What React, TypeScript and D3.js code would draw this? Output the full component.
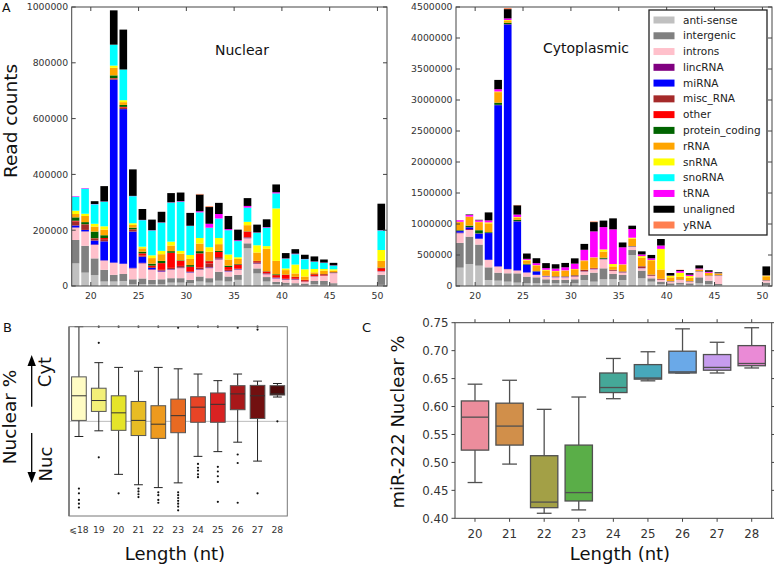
import React from 'react';
import * as d3 from 'd3';

const FONT = 'DejaVu Sans, Verdana, sans-serif';

// ---------- Panel A data (read counts, in thousands) ----------
const lengths = [18, 19, 20, 21, 22, 23, 24, 25, 26, 27, 28, 29, 30, 31, 32, 33, 34, 35, 36, 37, 38, 39, 40, 41, 42, 43, 44, 45, 50];
const categories = ['anti-sense', 'intergenic', 'introns', 'lincRNA', 'miRNA', 'misc_RNA', 'other', 'protein_coding', 'rRNA', 'snRNA', 'snoRNA', 'tRNA', 'unaligned', 'yRNA'];
const categoryColors = ['#c0c0c0', '#808080', '#ffc0cb', '#800080', '#0000ff', '#a52a2a', '#ff0000', '#006400', '#ffa500', '#ffff00', '#00ffff', '#ff00ff', '#000000', '#ff7f50'];

const nucAntiSense = [81, 48, 39, 16, 16, 18, 6, 7, 6, 6, 12, 12, 10, 16, 12, 19, 16, 22, 135, 45, 16, 7, 4, 4, 3, 6, 4, 4, 4];
const nucIntergenic = [84, 96, 60, 42, 24, 25, 18, 20, 16, 18, 16, 16, 12, 18, 16, 32, 18, 18, 18, 18, 16, 8, 8, 6, 6, 12, 14, 6, 36];
const nucIntrons = [44, 51, 48, 33, 43, 36, 39, 54, 36, 27, 30, 36, 26, 24, 36, 44, 18, 18, 18, 16, 10, 12, 10, 12, 6, 16, 18, 36, 12];
const nucLincRNA = [1, 1, 2, 1, 1, 1, 2, 2, 2, 2, 1, 1, 1, 1, 2, 2, 1, 1, 1, 1, 1, 1, 1, 1, 1, 1, 1, 1, 1];
const nucMiRNA = [7, 5, 14, 68, 656, 554, 130, 22, 5, 2, 1, 1, 1, 1, 1, 1, 1, 1, 1, 1, 1, 1, 1, 1, 0, 0, 0, 0, 0];
const nucMiscRNA = [14, 18, 6, 8, 3, 5, 6, 4, 3, 3, 5, 6, 3, 6, 14, 6, 4, 2, 2, 4, 2, 2, 2, 2, 1, 1, 1, 1, 1];
const nucOther = [3, 2, 2, 4, 2, 3, 2, 8, 5, 24, 54, 18, 16, 51, 8, 18, 10, 15, 20, 4, 6, 8, 14, 6, 4, 6, 4, 1, 10];
const nucProteinCoding = [12, 8, 24, 10, 10, 7, 6, 6, 7, 8, 6, 2, 6, 8, 2, 4, 5, 2, 1, 1, 1, 3, 1, 1, 1, 1, 1, 1, 2];
const nucRRNA = [12, 22, 18, 20, 27, 10, 10, 12, 20, 24, 20, 24, 22, 27, 32, 24, 22, 18, 22, 30, 80, 48, 16, 12, 12, 6, 12, 5, 24];
const nucSnRNA = [12, 8, 10, 12, 8, 7, 6, 6, 10, 12, 14, 10, 14, 20, 16, 22, 18, 6, 12, 26, 10, 188, 6, 32, 26, 12, 6, 5, 39];
const nucSnoRNA = [50, 90, 70, 88, 75, 110, 97, 95, 89, 101, 140, 176, 104, 92, 70, 70, 87, 58, 51, 45, 66, 54, 35, 37, 36, 26, 22, 13, 70];
const nucTRNA = [2, 2, 1, 1, 0, 0, 1, 1, 1, 1, 1, 2, 1, 4, 14, 16, 4, 3, 6, 1, 2, 4, 1, 2, 1, 1, 1, 1, 1];
const nucUnaligned = [0, 0, 10, 55, 123, 143, 95, 39, 38, 38, 33, 31, 46, 60, 60, 40, 47, 38, 28, 28, 28, 28, 19, 16, 15, 18, 11, 9, 95];
const nucYRNA = [0, 0, 0, 0, 0, 0, 0, 0, 0, 0, 0, 0, 0, 2, 3, 0, 0, 0, 0, 0, 0, 0, 0, 0, 0, 0, 0, 0, 0];

const cytAntiSense = [296, 355, 328, 97, 86, 70, 54, 43, 43, 43, 43, 45, 43, 97, 70, 108, 108, 97, 500, 124, 70, 32, 16, 22, 16, 43, 32, 16, 16];
const cytIntergenic = [400, 441, 340, 204, 129, 135, 150, 108, 97, 65, 54, 55, 65, 81, 145, 177, 86, 81, 80, 124, 54, 38, 27, 32, 27, 97, 54, 16, 38];
const cytIntrons = [155, 108, 91, 118, 97, 65, 43, 65, 38, 43, 43, 40, 43, 54, 54, 145, 48, 38, 54, 38, 38, 27, 27, 43, 27, 91, 75, 135, 32];
const cytLincRNA = [10, 15, 5, 5, 5, 5, 5, 3, 3, 3, 3, 3, 3, 3, 3, 3, 3, 3, 3, 3, 3, 3, 2, 2, 2, 2, 2, 2, 2];
const cytMiRNA = [25, 28, 81, 430, 2600, 3945, 790, 124, 54, 5, 3, 3, 2, 2, 2, 2, 2, 2, 2, 2, 2, 2, 2, 2, 2, 2, 2, 2, 2];
const cytMiscRNA = [5, 5, 5, 5, 5, 5, 5, 3, 3, 5, 8, 8, 16, 22, 10, 5, 12, 12, 3, 22, 12, 8, 3, 3, 3, 3, 3, 3, 3];
const cytOther = [0, 0, 0, 0, 0, 0, 0, 0, 0, 0, 0, 0, 0, 0, 5, 0, 0, 0, 0, 5, 3, 3, 0, 0, 0, 0, 0, 0, 0];
const cytProteinCoding = [10, 22, 50, 11, 35, 21, 21, 11, 3, 3, 3, 3, 3, 3, 3, 16, 3, 3, 3, 3, 3, 3, 2, 2, 2, 2, 2, 2, 2];
const cytRRNA = [130, 140, 130, 140, 170, 28, 38, 54, 90, 84, 81, 90, 95, 140, 165, 100, 54, 108, 118, 134, 230, 150, 60, 43, 54, 22, 40, 22, 62];
const cytSnRNA = [5, 5, 5, 16, 10, 15, 8, 11, 5, 11, 5, 5, 5, 10, 5, 34, 38, 5, 16, 27, 5, 333, 25, 65, 27, 5, 3, 5, 11];
const cytSnoRNA = [0, 0, 0, 0, 0, 0, 0, 0, 0, 0, 0, 0, 0, 0, 0, 0, 0, 0, 0, 0, 0, 0, 0, 0, 0, 0, 0, 0, 0];
const cytTRNA = [25, 27, 25, 32, 37, 27, 38, 16, 32, 27, 38, 50, 86, 172, 419, 360, 560, 275, 140, 27, 27, 54, 5, 27, 22, 16, 16, 3, 3];
const cytUnaligned = [0, 8, 8, 129, 150, 150, 150, 86, 80, 80, 70, 70, 85, 95, 150, 105, 177, 78, 54, 50, 54, 105, 40, 16, 25, 50, 25, 14, 145];
const cytYRNA = [0, 0, 0, 0, 0, 16, 5, 0, 0, 0, 0, 0, 0, 0, 10, 0, 0, 0, 0, 0, 0, 0, 0, 5, 0, 0, 0, 0, 0];

const nuclearSeries = [nucAntiSense, nucIntergenic, nucIntrons, nucLincRNA, nucMiRNA, nucMiscRNA, nucOther, nucProteinCoding, nucRRNA, nucSnRNA, nucSnoRNA, nucTRNA, nucUnaligned, nucYRNA];
const cytoplasmicSeries = [cytAntiSense, cytIntergenic, cytIntrons, cytLincRNA, cytMiRNA, cytMiscRNA, cytOther, cytProteinCoding, cytRRNA, cytSnRNA, cytSnoRNA, cytTRNA, cytUnaligned, cytYRNA];

const xTicksA = [20, 25, 30, 35, 40, 45, 50];
const nucYTicks = [0, 200, 400, 600, 800, 1000];
const cytYTicks = [0, 500, 1000, 1500, 2000, 2500, 3000, 3500, 4000, 4500];

// ---------- Panel B data ----------
const bLabels = ['\u2A7D18', '19', '20', '21', '22', '23', '24', '25', '26', '27', '28'];
const bWhiskerHigh = [1.0, 0.62, 0.57, 0.53, 0.57, 0.555, 0.5, 0.43, 0.5, 0.425, 0.4];
const bQ3 = [0.47, 0.35, 0.27, 0.21, 0.165, 0.235, 0.26, 0.3, 0.377, 0.38, 0.377];
const bMedian = [0.27, 0.22, 0.09, 0.01, -0.03, 0.06, 0.15, 0.18, 0.29, 0.27, 0.29];
const bQ1 = [0.01, 0.105, -0.095, -0.15, -0.18, -0.12, -0.01, -0.01, 0.123, 0.03, 0.278];
const bWhiskerLow = [-0.16, -0.1, -0.56, -0.67, -0.7, -0.65, -0.37, -0.32, -0.22, -0.42, 0.257];
const bOutliers = [
  [-0.71, -0.76, -0.83, -0.87, -0.91],
  [1.0, 0.83, -0.38],
  [1.0, -0.76],
  [1.0, -0.71, -0.74, -0.77, -0.8],
  [1.0, -0.75, -0.78, -0.83, -0.86],
  [0.99, -0.75, -0.78, -0.81, -0.84, -0.87, -0.9, -0.94],
  [1.0, -0.45, -0.49, -0.52, -0.56, -0.59],
  [1.0, -0.48, -0.53, -0.58, -0.64, -0.85],
  [0.99, -0.35, -0.44, -0.86],
  [1.0, 0.97, -0.76],
  [0.0],
];
const bColors = ['#fffcc4', '#f2ef78', '#e5e42a', '#e8bc24', '#ee9a1e', '#e86a22', '#e84426', '#d92222', '#a8181a', '#721010', '#4e0a0a'];

// ---------- Panel C data ----------
const cLabels = ['20', '21', '22', '23', '24', '25', '26', '27', '28'];
const cWhiskerHigh = [0.64, 0.647, 0.595, 0.617, 0.686, 0.698, 0.739, 0.715, 0.741];
const cQ3 = [0.61, 0.606, 0.512, 0.531, 0.66, 0.675, 0.699, 0.693, 0.709];
const cMedian = [0.581, 0.565, 0.429, 0.446, 0.634, 0.651, 0.662, 0.67, 0.677];
const cQ1 = [0.522, 0.531, 0.419, 0.431, 0.625, 0.649, 0.66, 0.665, 0.673];
const cWhiskerLow = [0.464, 0.497, 0.409, 0.415, 0.614, 0.646, 0.66, 0.66, 0.669];
const cColors = ['#ec8d9c', '#d18f4a', '#a3a046', '#5aae48', '#45a898', '#47a8bb', '#6aa9e8', '#c69cee', '#ea8ad6'];
const cYTicks = [0.4, 0.45, 0.5, 0.55, 0.6, 0.65, 0.7, 0.75];

function buildStack(series: number[][]) {
  const rows = lengths.map((L, i) => {
    const r: any = { length: L };
    categories.forEach((c, j) => { r[c] = series[j][i]; });
    return r;
  });
  return d3.stack().keys(categories)(rows);
}

function StackedPanel(props: any) {
  const { series, x, y, yTicks, title, titleX, titleY } = props;
  const stacked = buildStack(series);
  const [x0, x1] = x.range();
  const [y0, y1] = y.range();
  const fmt = d3.format('d');
  return (
    <g>
      {stacked.map((s: any, j: number) => (
        <g key={categories[j]} fill={categoryColors[j]}>
          {s.map((d: any, i: number) => {
            const h = y(d[0]) - y(d[1]);
            if (h <= 0) return null;
            return <rect key={i} x={x(lengths[i])} width={x(lengths[i] + 0.8) - x(lengths[i])} y={y(d[1])} height={h} />;
          })}
        </g>
      ))}
      <rect x={x0} y={y1} width={x1 - x0} height={y0 - y1} fill="none" stroke="#444" strokeWidth={1} />
      {xTicksA.map(t => (
        <g key={t}>
          <line x1={x(t)} x2={x(t)} y1={y0} y2={y0 - 4} stroke="#444" />
          <line x1={x(t)} x2={x(t)} y1={y1} y2={y1 + 4} stroke="#444" />
          <text x={x(t)} y={298.5} textAnchor="middle" fontSize={9.3} fill="#333" fontFamily={FONT}>{t}</text>
        </g>
      ))}
      {yTicks.map((t: number) => (
        <g key={t}>
          <line x1={x0} x2={x0 + 4} y1={y(t)} y2={y(t)} stroke="#444" />
          <line x1={x1} x2={x1 - 4} y1={y(t)} y2={y(t)} stroke="#444" />
          <text x={x0 - 3.5} y={y(t) + 3.3} textAnchor="end" fontSize={9.3} fill="#333" fontFamily={FONT}>{fmt(t * 1000)}</text>
        </g>
      ))}
      <text x={titleX} y={titleY} fontSize={14} fill="#111" fontFamily={FONT}>{title}</text>
    </g>
  );
}

function Legend() {
  const lx = 649, ly = 10, lw = 118, lh = 225;
  const step = 15.77;
  return (
    <g>
      <rect x={lx} y={ly} width={lw} height={lh} fill="#fff" stroke="#222" strokeWidth={1.3} />
      {categories.map((c, i) => {
        const cy = 20 + i * step;
        return (
          <g key={c}>
            <rect x={653.5} y={cy - 3.5} width={21} height={7} fill={categoryColors[i]} />
            <text x={683} y={cy + 3.6} fontSize={10.5} fill="#222" fontFamily={FONT}>{c}</text>
          </g>
        );
      })}
    </g>
  );
}

function PanelB() {
  const xb = d3.scaleBand().domain(bLabels).range([69, 287.3]);
  const yb = d3.scaleLinear().domain([-1, 1]).range([516, 326.7]);
  const bw = xb.bandwidth();
  const boxW = bw * 0.74;
  return (
    <g>
      <line x1={69} x2={287.3} y1={yb(0)} y2={yb(0)} stroke="#aaa" strokeWidth={0.8} />
      {bLabels.map((lab, i) => {
        const cx = (xb(lab) as number) + bw / 2;
        return (
          <g key={lab}>
            <line x1={cx} x2={cx} y1={yb(bWhiskerHigh[i])} y2={yb(bQ3[i])} stroke="#222" strokeWidth={1} />
            <line x1={cx} x2={cx} y1={yb(bQ1[i])} y2={yb(bWhiskerLow[i])} stroke="#222" strokeWidth={1} />
            <line x1={cx - boxW * 0.3} x2={cx + boxW * 0.3} y1={yb(bWhiskerHigh[i])} y2={yb(bWhiskerHigh[i])} stroke="#222" strokeWidth={1} />
            <line x1={cx - boxW * 0.3} x2={cx + boxW * 0.3} y1={yb(bWhiskerLow[i])} y2={yb(bWhiskerLow[i])} stroke="#222" strokeWidth={1} />
            <rect x={cx - boxW / 2} y={yb(bQ3[i])} width={boxW} height={yb(bQ1[i]) - yb(bQ3[i])} fill={bColors[i]} stroke="#555" strokeWidth={1} />
            <line x1={cx - boxW / 2} x2={cx + boxW / 2} y1={yb(bMedian[i])} y2={yb(bMedian[i])} stroke="#333" strokeWidth={1} />
            {bOutliers[i].map((o, k) => (
              <circle key={k} cx={cx} cy={yb(o)} r={1.1} fill="#111" />
            ))}
            <text x={cx} y={533.3} textAnchor="middle" fontSize={9.2} fill="#333" fontFamily={FONT}>{lab}</text>
          </g>
        );
      })}
      <rect x={69} y={326.7} width={287.3 - 69} height={516 - 326.7} fill="none" stroke="#777" strokeWidth={1} />
      <line x1={69} x2={69} y1={326.7} y2={516} stroke="#777" strokeWidth={1.6} />
      <text x={175} y={560} textAnchor="middle" fontSize={18} fill="#111" fontFamily={FONT}>Length (nt)</text>
      <text transform="translate(15.5,417) rotate(-90)" textAnchor="middle" fontSize={18.5} fill="#111" fontFamily={FONT}>Nuclear %</text>
      <text transform="translate(50.5,372) rotate(-90)" textAnchor="middle" fontSize={18} fill="#111" fontFamily={FONT}>Cyt</text>
      <text transform="translate(51.5,464) rotate(-90)" textAnchor="middle" fontSize={18} fill="#111" fontFamily={FONT}>Nuc</text>
      <line x1={31.7} x2={31.7} y1={406.7} y2={362} stroke="#000" strokeWidth={1.3} />
      <path d="M27.5,366 L31.7,355 L35.9,366 Z" fill="#000" />
      <line x1={31.7} x2={31.7} y1={433} y2={474} stroke="#000" strokeWidth={1.3} />
      <path d="M27.5,472 L31.7,483 L35.9,472 Z" fill="#000" />
    </g>
  );
}

function PanelC() {
  const fx0 = 455, fx1 = 771.7, fy0 = 518.3, fy1 = 322.7;
  const xc = d3.scaleBand().domain(cLabels).range([fx0 + 2.7, fx1 - 2.7]);
  const yc = d3.scaleLinear().domain([0.4, 0.75]).range([fy0, fy1]);
  const bw = xc.bandwidth();
  const boxW = bw * 0.79;
  const stroke = '#505050';
  return (
    <g>
      {cLabels.map((lab, i) => {
        const cx = (xc(lab) as number) + bw / 2;
        return (
          <g key={lab}>
            <line x1={cx} x2={cx} y1={yc(cWhiskerHigh[i])} y2={yc(cQ3[i])} stroke={stroke} strokeWidth={1.3} />
            <line x1={cx} x2={cx} y1={yc(cQ1[i])} y2={yc(cWhiskerLow[i])} stroke={stroke} strokeWidth={1.3} />
            <line x1={cx - boxW * 0.27} x2={cx + boxW * 0.27} y1={yc(cWhiskerHigh[i])} y2={yc(cWhiskerHigh[i])} stroke={stroke} strokeWidth={1.3} />
            <line x1={cx - boxW * 0.27} x2={cx + boxW * 0.27} y1={yc(cWhiskerLow[i])} y2={yc(cWhiskerLow[i])} stroke={stroke} strokeWidth={1.3} />
            <rect x={cx - boxW / 2} y={yc(cQ3[i])} width={boxW} height={yc(cQ1[i]) - yc(cQ3[i])} fill={cColors[i]} stroke={stroke} strokeWidth={1.3} />
            <line x1={cx - boxW / 2} x2={cx + boxW / 2} y1={yc(cMedian[i])} y2={yc(cMedian[i])} stroke={stroke} strokeWidth={1.3} />
            <line x1={cx} x2={cx} y1={fy0} y2={fy0 + 3.5} stroke="#444" />
            <line x1={cx} x2={cx} y1={fy1} y2={fy1 - 3.5} stroke="#444" />
            <text x={cx} y={537.5} textAnchor="middle" fontSize={11.8} fill="#333" fontFamily={FONT}>{lab}</text>
          </g>
        );
      })}
      {cYTicks.map(t => (
        <g key={t}>
          <line x1={fx0} x2={fx0 - 3.5} y1={yc(t)} y2={yc(t)} stroke="#444" />
          <line x1={fx1} x2={fx1 + 3.5} y1={yc(t)} y2={yc(t)} stroke="#444" />
          <text x={448.5} y={yc(t) + 4.2} textAnchor="end" fontSize={11.8} fill="#333" fontFamily={FONT}>{t.toFixed(2)}</text>
        </g>
      ))}
      <rect x={fx0} y={fy1} width={fx1 - fx0} height={fy0 - fy1} fill="none" stroke="#444" strokeWidth={1} />
      <text x={620} y={560} textAnchor="middle" fontSize={18} fill="#111" fontFamily={FONT}>Length (nt)</text>
      <text transform="translate(403.5,422) rotate(-90)" textAnchor="middle" fontSize={18} fill="#111" fontFamily={FONT}>miR-222 Nuclear %</text>
    </g>
  );
}

export default function App() {
  const nx = d3.scaleLinear().domain([18, 51]).range([71.7, 387]);
  const ny = d3.scaleLinear().domain([0, 1000]).range([286, 7]);
  const cx = d3.scaleLinear().domain([18, 51]).range([456, 772]);
  const cy = d3.scaleLinear().domain([0, 4500]).range([286, 7]);
  return (
    <svg width={774} height={565} viewBox="0 0 774 565" style={{ position: 'absolute', left: 0, top: 0, background: '#fff' }}>
      <rect x={0} y={0} width={774} height={565} fill="#fff" />
      <StackedPanel series={nuclearSeries} x={nx} y={ny} yTicks={nucYTicks} title="Nuclear" titleX={215} titleY={55} />
      <StackedPanel series={cytoplasmicSeries} x={cx} y={cy} yTicks={cytYTicks} title="Cytoplasmic" titleX={543} titleY={53} />
      <Legend />
      <text transform="translate(16.5,121) rotate(-90)" textAnchor="middle" fontSize={18.5} fill="#111" fontFamily={FONT}>Read counts</text>
      <text x={2} y={12} fontSize={12.5} fill="#111" fontFamily={FONT}>A</text>
      <text x={3} y={332} fontSize={13} fill="#111" fontFamily={FONT}>B</text>
      <text x={362} y={332} fontSize={13} fill="#111" fontFamily={FONT}>C</text>
      <PanelB />
      <PanelC />
    </svg>
  );
}
